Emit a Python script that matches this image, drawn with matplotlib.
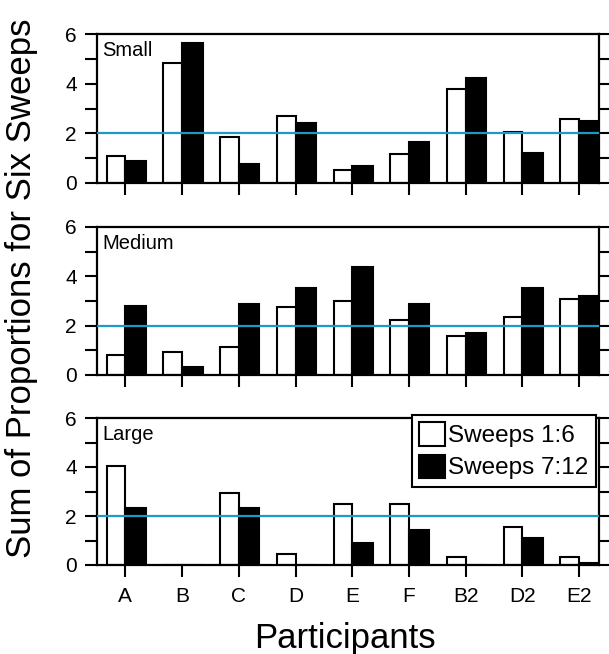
import matplotlib
matplotlib.use("Agg")
import matplotlib.pyplot as plt
import numpy as np
from matplotlib.patches import Patch

participants = ["A", "B", "C", "D", "E", "F", "B2", "D2", "E2"]
panel_names = ["Small", "Medium", "Large"]
series_labels = ["Sweeps 1:6", "Sweeps 7:12"]

small_1_6 = [1.08, 4.85, 1.86, 2.70, 0.52, 1.18, 3.78, 2.06, 2.57]
small_7_12 = [0.87, 5.63, 0.78, 2.40, 0.67, 1.64, 4.23, 1.21, 2.50]
medium_1_6 = [0.80, 0.93, 1.14, 2.74, 2.98, 2.21, 1.57, 2.34, 3.07]
medium_7_12 = [2.78, 0.31, 2.89, 3.53, 4.39, 2.89, 1.70, 3.53, 3.21]
large_1_6 = [4.04, 0.00, 2.94, 0.43, 2.49, 2.49, 0.32, 1.54, 0.32]
large_7_12 = [2.31, 0.00, 2.31, 0.00, 0.88, 1.43, 0.00, 1.11, 0.10]
reference_level = 2

panels = [(small_1_6, small_7_12), (medium_1_6, medium_7_12), (large_1_6, large_7_12)]

plt.rcParams['font.family'] = ['Liberation Sans', 'DejaVu Sans']

fig = plt.figure(figsize=(6.09, 6.54), dpi=100)
W, H = 609, 654
left, right = 97, 599
tops = [34, 227, 418]
bots = [183, 375, 565]
line_col = "#1c9ac6"

x = np.arange(len(participants))
bw_white = 0.33
bw_black = 0.36
axes = []
for i, (name, (s1, s2)) in enumerate(zip(panel_names, panels)):
    ax = fig.add_axes([left / W, 1 - bots[i] / H, (right - left) / W, (bots[i] - tops[i]) / H])
    ax.bar(x, s1, width=-bw_white, align='edge', color='white', edgecolor='black', linewidth=1.5, zorder=2)
    ax.bar(x, s2, width=bw_black, align='edge', color='black', edgecolor='black', linewidth=1.5, zorder=2)
    ax.axhline(reference_level, color=line_col, linewidth=1.6, zorder=3)
    ax.set_xlim(-0.5, 8.35)
    ax.set_ylim(0, 6)
    ax.set_yticks(range(0, 7))
    ax.set_yticklabels([str(v) if v % 2 == 0 else "" for v in range(0, 7)])
    ax.set_xticks(x)
    if i == 2:
        ax.set_xticklabels(participants, fontsize=15)
    else:
        ax.set_xticklabels([])
    ax.tick_params(axis='y', which='both', direction='out', length=8.5, width=1.5,
                   right=True, labelsize=15, pad=6)
    ax.tick_params(axis='x', direction='out', length=8.5, width=1.5, pad=7)
    for sp in ax.spines.values():
        sp.set_linewidth(1.6)
    ax.text(5 / (right - left), 1 - 7 / (bots[i] - tops[i]), name, transform=ax.transAxes,
            ha='left', va='top', fontsize=14.5)
    axes.append(ax)

handles = [Patch(facecolor='white', edgecolor='black', linewidth=1.5),
           Patch(facecolor='black', edgecolor='black', linewidth=1.5)]
leg = axes[2].legend(handles, series_labels, loc='upper right', fontsize=17.5,
                     bbox_to_anchor=(596 / W, 1 - 415 / H), bbox_transform=fig.transFigure,
                     frameon=True, fancybox=False, edgecolor='black',
                     handlelength=1.05, handleheight=1.1, handletextpad=0.15,
                     borderpad=0.3, labelspacing=0.3, borderaxespad=0.0)
leg.get_frame().set_linewidth(1.5)
leg.get_frame().set_alpha(1)

fig.text(22 / W, 1 - 288 / H, "Sum of Proportions for Six Sweeps", rotation=90,
         ha='center', va='center', fontsize=25)
fig.text(345 / W, 1 - 648 / H, "Participants", ha='center', va='baseline', fontsize=25)

fig.savefig("out.png", dpi=100)
